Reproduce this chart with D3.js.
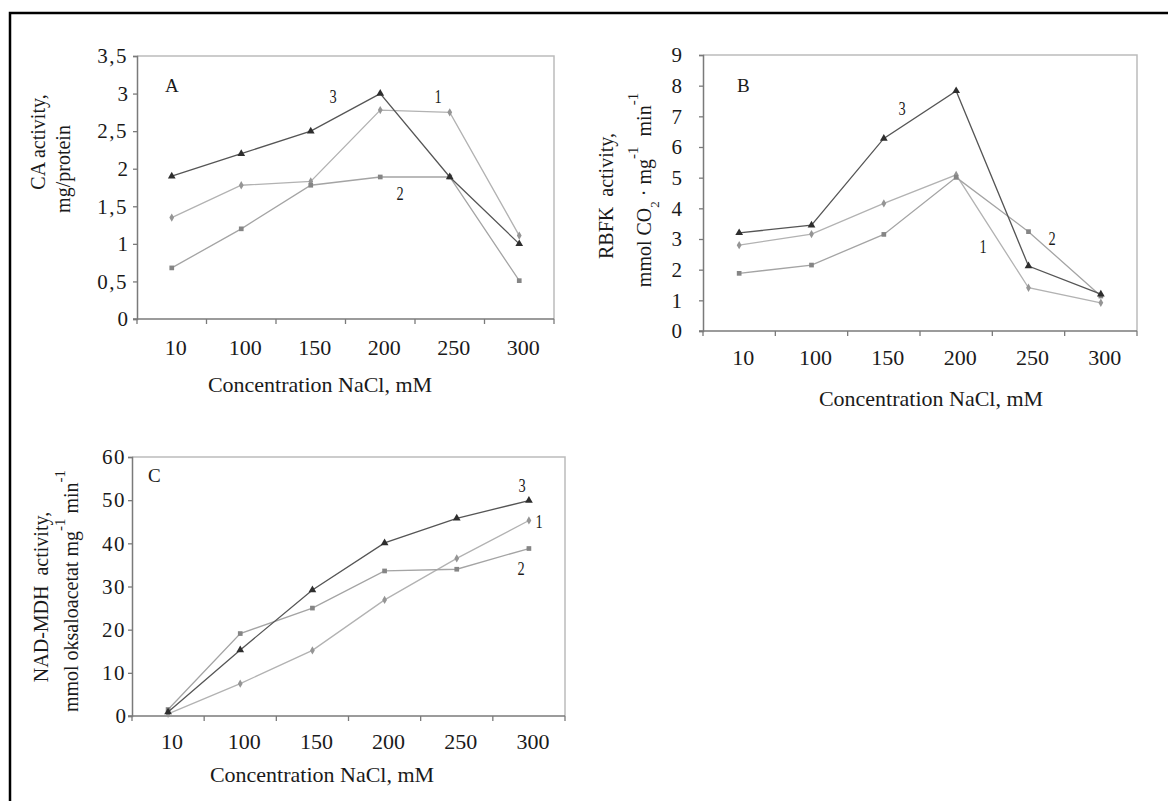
<!DOCTYPE html>
<html>
<head>
<meta charset="utf-8">
<script src="https://cdn.jsdelivr.net/npm/d3@7"></script>
<style>
  body { margin: 0; background: #fff; }
  text { font-family: "Liberation Serif", "DejaVu Serif", serif; fill: #1a1a1a; }
</style>
</head>
<body>
<script>
// NaCl concentrations (categories, mM)
var concentrations = ["10", "100", "150", "200", "250", "300"];

// A - CA activity, mg/protein
var caTicks = [0, 0.5, 1, 1.5, 2, 2.5, 3, 3.5];
var ca1 = [1.35, 1.78, 1.83, 2.78, 2.75, 1.11];
var ca2 = [0.68, 1.2, 1.78, 1.89, 1.89, 0.51];
var ca3 = [1.9, 2.2, 2.5, 3.0, 1.89, 1.0];

// B - RBFK activity
var rbfkTicks = [0, 1, 2, 3, 4, 5, 6, 7, 8, 9];
var rbfk1 = [2.8, 3.16, 4.16, 5.09, 1.41, 0.92];
var rbfk2 = [1.88, 2.15, 3.15, 5.01, 3.24, 1.14];
var rbfk3 = [3.2, 3.45, 6.28, 7.83, 2.12, 1.2];

// C - NAD-MDH activity
var mdhTicks = [0, 10, 20, 30, 40, 50, 60];
var mdh1 = [0.5, 7.5, 15.2, 26.9, 36.5, 45.3];
var mdh2 = [1.5, 19.1, 25.0, 33.6, 34.0, 38.8];
var mdh3 = [0.9, 15.3, 29.2, 40.1, 45.8, 49.9];

var svg = d3.select("body").append("svg")
    .attr("width", 1168)
    .attr("height", 801);

// outer frame
svg.append("rect")
    .attr("x", 10).attr("y", 13)
    .attr("width", 1200).attr("height", 820)
    .attr("fill", "none")
    .attr("stroke", "#000")
    .attr("stroke-width", 2.5);

var commaFmt = function(d) { return String(d).replace(".", ","); };

var panels = [
  { letter: "A", left: 137, right: 554, top: 56, bottom: 319, max: 3.5, ticks: caTicks, fmt: commaFmt,
    pad: 5, data: [ca1, ca2, ca3], tickY: 355, labelY: 392, labelX: 320,
    letterPos: [165, 92],
    nums: [["3", 333, 103], ["1", 438, 103], ["2", 400, 200]],
    ylabel: [
      { x: 45, y: 142, parts: [["CA activity,"]] },
      { x: 70, y: 169, parts: [["mg/protein"]] }
    ] },
  { letter: "B", left: 703, right: 1137, top: 55, bottom: 331, max: 9, ticks: rbfkTicks, fmt: d3.format("d"),
    pad: 17, data: [rbfk1, rbfk2, rbfk3], tickY: 365, labelY: 406, labelX: 931,
    letterPos: [737, 92],
    nums: [["3", 902, 115], ["1", 983, 253], ["2", 1052, 245]],
    ylabel: [
      { x: 613, y: 196, parts: [["RBFK\u00a0 activity,"]] },
      { x: 651, y: 190, parts: [["mmol CO"], ["2", "sub"], [" \u00b7 mg"], ["-1", "sup"], ["\u00a0 min"], ["-1", "sup"]] }
    ] },
  { letter: "C", left: 132, right: 565, top: 457, bottom: 716, max: 60, ticks: mdhTicks, fmt: d3.format("d"),
    pad: 2, data: [mdh1, mdh2, mdh3], tickY: 749, labelY: 782, labelX: 322,
    letterPos: [148, 482],
    nums: [["3", 522, 492], ["1", 539, 528], ["2", 521, 575]],
    ylabel: [
      { x: 48, y: 597, parts: [["NAD-MDH\u00a0 activity,"]] },
      { x: 78, y: 591, parts: [["mmol oksaloacetat mg"], ["-1", "sup"], [" min"], ["-1", "sup"]] }
    ] }
];

// series styles: 1 = diamond light, 2 = square medium, 3 = triangle dark
var seriesStyle = [
  { line: "#b2b2b2", fill: "#959595", sym: d3.symbolDiamond, size: 20 },
  { line: "#a4a4a4", fill: "#858585", sym: d3.symbolSquare, size: 22 },
  { line: "#555555", fill: "#2e2e2e", sym: d3.symbolTriangle, size: 26 }
];

panels.forEach(function(p) {
  var x = d3.scaleBand().domain(concentrations).range([p.left, p.right]);
  var y = d3.scaleLinear().domain([0, p.max]).range([p.bottom, p.top]);
  var g = svg.append("g");

  // plot frame (top and right, light)
  g.append("path")
      .attr("d", "M" + p.left + "," + p.top + "H" + p.right + "V" + p.bottom)
      .attr("fill", "none")
      .attr("stroke", "#bcbcbc")
      .attr("stroke-width", 1.5);

  // y axis
  var yAxis = d3.axisLeft(y).tickValues(p.ticks).tickFormat(p.fmt).tickSize(4).tickPadding(p.pad);
  var ya = g.append("g")
      .attr("transform", "translate(" + p.left + ",0)")
      .call(yAxis);
  ya.select(".domain").attr("stroke", "#7a7a7a").attr("stroke-width", 1.5);
  ya.selectAll(".tick line").attr("stroke", "#7a7a7a").attr("stroke-width", 1.3);
  ya.selectAll(".tick text")
      .attr("font-size", "21px")
      .attr("font-family", "Liberation Serif")
      .attr("letter-spacing", function(d) { return String(p.fmt(d)).length > 1 ? "1.5px" : null; })
      .attr("fill", "#1a1a1a");

  // x axis line with ticks at category boundaries
  var bounds = concentrations.map(function(c) { return x(c); }).concat([p.right]);
  g.append("line")
      .attr("x1", p.left - 4).attr("x2", p.right)
      .attr("y1", p.bottom).attr("y2", p.bottom)
      .attr("stroke", "#7a7a7a").attr("stroke-width", 1.5);
  g.selectAll(".xt").data(bounds).enter().append("line")
      .attr("x1", function(d) { return d; }).attr("x2", function(d) { return d; })
      .attr("y1", p.bottom).attr("y2", p.bottom + 5)
      .attr("stroke", "#7a7a7a").attr("stroke-width", 1.3);

  g.selectAll(".xl").data(concentrations).enter().append("text")
      .attr("x", function(d) { return x(d) + x.bandwidth() / 2 + 4; })
      .attr("y", p.tickY)
      .attr("text-anchor", "middle")
      .attr("font-size", "22px")
      .text(function(d) { return d; });

  g.append("text")
      .attr("x", p.labelX)
      .attr("y", p.labelY)
      .attr("text-anchor", "middle")
      .attr("font-size", "22px")
      .text("Concentration NaCl, mM");

  // y axis label lines
  p.ylabel.forEach(function(l) {
    var t = g.append("text")
        .attr("transform", "translate(" + l.x + "," + l.y + ") rotate(-90)")
        .attr("text-anchor", "middle")
        .attr("font-size", "20px");
    l.parts.forEach(function(pt) {
      var s = t.append("tspan").text(pt[0]);
      if (pt[1] === "sup") s.attr("baseline-shift", "90%").attr("font-size", "15px");
      if (pt[1] === "sub") s.attr("baseline-shift", "sub").attr("font-size", "13px");
    });
  });

  // panel letter
  g.append("text")
      .attr("x", p.letterPos[0]).attr("y", p.letterPos[1])
      .attr("font-size", "19px")
      .text(p.letter);

  // series lines and markers
  p.data.forEach(function(vals, si) {
    var st = seriesStyle[si];
    var pts = vals.map(function(v, i) { return [x(concentrations[i]) + x.bandwidth() / 2, y(v)]; });
    g.append("path")
        .attr("d", d3.line()(pts))
        .attr("fill", "none")
        .attr("stroke", st.line)
        .attr("stroke-width", 1.3);
    g.selectAll(".m" + si).data(pts).enter().append("path")
        .attr("transform", function(d) { return "translate(" + d[0] + "," + d[1] + ")"; })
        .attr("d", d3.symbol().type(st.sym).size(st.size))
        .attr("fill", st.fill);
  });

  // series numbers
  p.nums.forEach(function(n) {
    g.append("text")
        .attr("x", n[1]).attr("y", n[2])
        .attr("text-anchor", "middle")
        .attr("font-size", "18px")
        .attr("transform", "translate(" + n[1] + ",0) scale(0.8,1) translate(" + (-n[1]) + ",0)")
        .text(n[0]);
  });
});
</script>
</body>
</html>
